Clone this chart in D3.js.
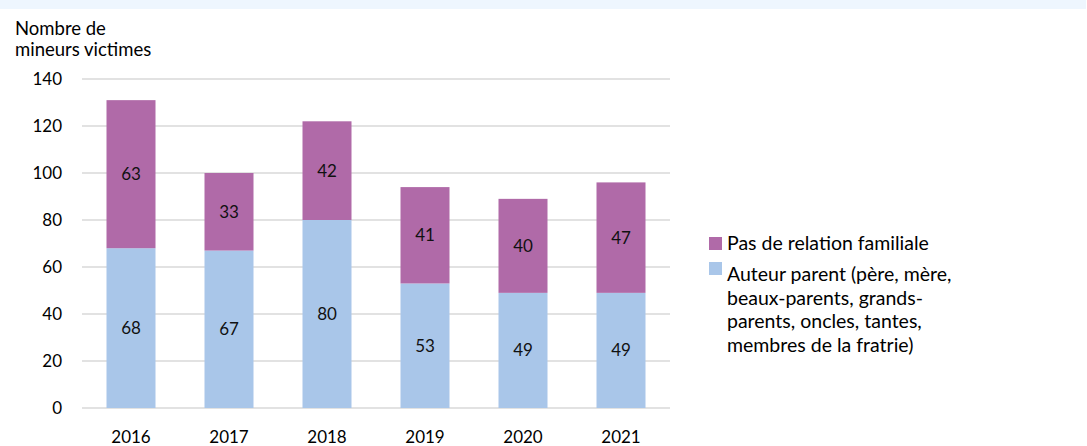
<!DOCTYPE html>
<html>
<head>
<meta charset="utf-8">
<script src="https://cdn.jsdelivr.net/npm/d3@7"></script>
<style>
  body { margin: 0; background: #fff; }
  svg { display: block; font-family: Lato, "Open Sans", sans-serif; }
</style>
</head>
<body>
<div id="chart"></div>
<script>
// data
var years = ["2016", "2017", "2018", "2019", "2020", "2021"];
var parent = [68, 67, 80, 53, 49, 49];
var nonFamily = [63, 33, 42, 41, 40, 47];
var yTicks = [0, 20, 40, 60, 80, 100, 120, 140];
var seriesNames = ["Pas de relation familiale", "Auteur parent (père, mère, beaux-parents, grands-parents, oncles, tantes, membres de la fratrie)"];

var width = 1087, height = 446;
var colBlue = "#a9c6e9", colPurple = "#b06aa8";
var textSize = "19.5px", numSize = "17px";

var svg = d3.select("#chart").append("svg")
  .attr("width", width)
  .attr("height", height);

// top band
svg.append("rect")
  .attr("x", 0).attr("y", 0)
  .attr("width", 1086).attr("height", 9)
  .attr("fill", "#eef6fe");

var x = d3.scaleBand().domain(years).range([82, 670]).paddingInner(0.5).paddingOuter(0.25);
var y = d3.scaleLinear().domain([0, 140]).range([408, 79]);

// gridlines
svg.append("g").selectAll("line")
  .data(yTicks)
  .enter().append("line")
  .attr("x1", 82).attr("x2", 670)
  .attr("y1", function(d){ return y(d); })
  .attr("y2", function(d){ return y(d); })
  .style("stroke", "#d9d9d9")
  .style("stroke-width", 1.3);

// y tick labels
svg.append("g").selectAll("text")
  .data(yTicks)
  .enter().append("text")
  .attr("x", 62)
  .attr("y", function(d){ return y(d); })
  .attr("dy", "0.35em")
  .attr("text-anchor", "end")
  .style("font-size", numSize)
  .text(function(d){ return d; });

// axis title
svg.append("text").attr("x", 15).attr("y", 35).style("font-size", "18.5px").text("Nombre de");
svg.append("text").attr("x", 15).attr("y", 56).style("font-size", "18.5px").text("mineurs victimes");

// stacked bars
var rows = years.map(function(yr, i){ return {year: yr, parent: parent[i], other: nonFamily[i]}; });
var stack = d3.stack().keys(["parent", "other"])(rows);
var colors = {parent: colBlue, other: colPurple};

stack.forEach(function(layer){
  var g = svg.append("g");
  g.selectAll("rect")
    .data(layer)
    .enter().append("rect")
    .attr("x", function(d){ return x(d.data.year); })
    .attr("width", x.bandwidth())
    .attr("y", function(d){ return y(d[1]); })
    .attr("height", function(d){ return y(d[0]) - y(d[1]); })
    .attr("fill", colors[layer.key]);
  g.selectAll("text")
    .data(layer)
    .enter().append("text")
    .attr("x", function(d){ return x(d.data.year) + x.bandwidth()/2; })
    .attr("y", function(d){ return y((d[0] + d[1])/2); })
    .attr("dy", "0.35em")
    .attr("text-anchor", "middle")
    .style("font-size", numSize)
    .style("fill", "#111")
    .text(function(d){ return d[1] - d[0]; });
});

// x labels
svg.append("g").selectAll("text")
  .data(years)
  .enter().append("text")
  .attr("x", function(d){ return x(d) + x.bandwidth()/2; })
  .attr("y", 437)
  .attr("dy", "0.35em")
  .attr("text-anchor", "middle")
  .style("font-size", numSize)
  .text(function(d){ return d; });

// legend
var legend = svg.append("g");
legend.append("rect").attr("x", 709).attr("y", 237).attr("width", 13).attr("height", 13).attr("fill", colPurple);
legend.append("text").attr("x", 727).attr("y", 250).style("font-size", textSize).text(seriesNames[0]);
legend.append("rect").attr("x", 709).attr("y", 262).attr("width", 13).attr("height", 13).attr("fill", colBlue);
var lines = ["Auteur parent (père, mère,", "beaux-parents, grands-", "parents, oncles, tantes,", "membres de la fratrie)"];
var lt = legend.append("text").style("font-size", textSize);
lines.forEach(function(l, i){
  lt.append("tspan").attr("x", 727).attr("y", 281 + i*23.7).text(l);
});
</script>
</body>
</html>
